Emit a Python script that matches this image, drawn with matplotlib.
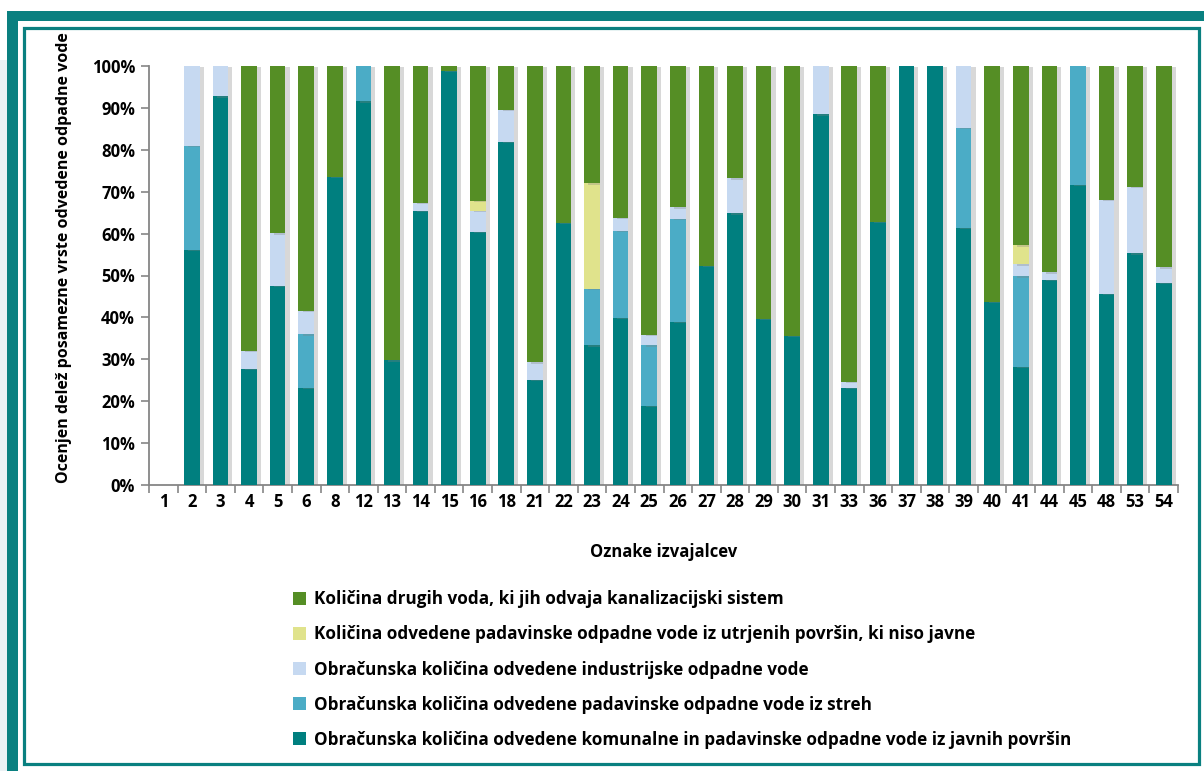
import matplotlib
matplotlib.use('Agg')
import matplotlib.pyplot as plt
import matplotlib.patheffects as pe
from matplotlib.patches import Rectangle
from matplotlib.ticker import FixedLocator, PercentFormatter
import numpy as np

plt.rcParams['font.family'] = ['Open Sans', 'DejaVu Sans']
plt.rcParams['font.weight'] = 'bold'

categories = ['1', '2', '3', '4', '5', '6', '8', '12', '13', '14', '15', '16', '18', '21', '22', '23', '24', '25',
              '26', '27', '28', '29', '30', '31', '33', '36', '37', '38', '39', '40', '41', '44', '45', '48', '53', '54']

komunalne = [0, 56.2, 92.8, 27.7, 47.6, 23.2, 73.5, 91.6, 29.8, 65.5, 98.9, 60.5, 81.9, 25.1, 62.6, 33.3, 39.9, 18.9,
             39.0, 52.3, 64.8, 39.7, 35.6, 88.5, 23.2, 62.8, 100, 100, 61.4, 43.7, 28.2, 48.9, 71.6, 45.7, 55.3, 48.2]
streh = [0, 24.8, 0, 0, 0, 12.8, 0, 8.4, 0, 0, 0, 0, 0, 0, 0, 13.5, 20.8, 14.4,
         24.5, 0, 0, 0, 0, 0, 0, 0, 0, 0, 23.8, 0, 21.6, 0, 28.4, 0, 0, 0]
industrijske = [0, 19.0, 7.2, 4.3, 12.5, 5.6, 0, 0, 0, 1.9, 0, 4.9, 7.6, 4.2, 0, 0, 3.1, 2.6,
                2.8, 0, 8.4, 0, 0, 11.5, 1.5, 0, 0, 0, 14.8, 0, 2.9, 1.9, 0, 22.3, 15.8, 3.8]
utrjene = [0, 0, 0, 0, 0, 0, 0, 0, 0, 0, 0, 2.4, 0, 0, 0, 25.2, 0, 0,
           0, 0, 0, 0, 0, 0, 0, 0, 0, 0, 0, 0, 4.5, 0, 0, 0, 0, 0]
druge = [0, 0, 0, 68.0, 39.9, 58.4, 26.5, 0, 70.2, 32.6, 1.1, 32.2, 10.5, 70.7, 37.4, 28.0, 36.2, 64.1,
         33.7, 47.7, 26.8, 60.3, 64.4, 0, 75.3, 37.2, 0, 0, 0, 56.3, 42.8, 49.2, 0, 32.0, 28.9, 48.0]

series = [
    (komunalne, '#007F7F', 'Obračunska količina odvedene komunalne in padavinske odpadne vode iz javnih površin'),
    (streh, '#4BACC6', 'Obračunska količina odvedene padavinske odpadne vode iz streh'),
    (industrijske, '#C6D9F1', 'Obračunska količina odvedene industrijske odpadne vode'),
    (utrjene, '#E0E38C', 'Količina odvedene padavinske odpadne vode iz utrjenih površin, ki niso javne'),
    (druge, '#558E25', 'Količina drugih voda, ki jih odvaja kanalizacijski sistem'),
]

W, H = 1204, 771
fig = plt.figure(figsize=(W / 100, H / 100), dpi=100)
teal = '#0A8080'


def fx(x):
    return x / W


def fy(y):
    return 1 - y / H


# frame around the chart
fig.patches.append(Rectangle((0, 0), fx(7), fy(60), transform=fig.transFigure,
                             facecolor='#EBF1F4', edgecolor='none', zorder=0))
fig.patches.append(Rectangle((fx(7), fy(21)), 1 - fx(7), fy(11) - fy(21), transform=fig.transFigure,
                             facecolor=teal, edgecolor='none'))
fig.patches.append(Rectangle((fx(7), 0), fx(18) - fx(7), fy(11), transform=fig.transFigure,
                             facecolor=teal, edgecolor='none'))
fig.patches.append(Rectangle((fx(23.5), fy(763.5)), fx(1198.5) - fx(23.5), fy(27.5) - fy(763.5),
                             transform=fig.transFigure, facecolor='none', edgecolor=teal, linewidth=2.3))

ax = fig.add_axes([fx(149), fy(485), fx(1178) - fx(149), fy(66) - fy(485)])
x = np.arange(len(categories))
bottom = np.zeros(len(categories))
shadow = [pe.SimplePatchShadow(offset=(3, -1), shadow_rgbFace='#808080', alpha=0.3), pe.Normal()]
handles = []
for vals, color, label in series:
    vals = np.array(vals)
    bars = ax.bar(x, vals, 0.55, bottom=bottom, color=color, label=label, zorder=3)
    for b in bars:
        b.set_path_effects(shadow)
    handles.append(bars)
    bottom += vals

ax.set_xlim(-0.5, len(categories) - 0.5)
ax.set_ylim(0, 100)
ax.set_yticks(np.arange(0, 101, 10))
ax.yaxis.set_major_formatter(PercentFormatter(decimals=0))
ax.set_xticks(x)
ax.set_xticklabels(categories)
ax.xaxis.set_minor_locator(FixedLocator(np.arange(-0.5, len(categories), 1)))
ax.tick_params(axis='x', which='major', length=0, pad=6, labelsize=12)
ax.tick_params(axis='x', which='minor', length=6, width=1.2, color='#868686', direction='out')
ax.tick_params(axis='y', length=6, width=1.2, color='#868686', labelsize=12, pad=4)
for lab in ax.get_xticklabels() + ax.get_yticklabels():
    lab.set_fontweight('bold')
for s in ['top', 'right']:
    ax.spines[s].set_visible(False)
for s in ['left', 'bottom']:
    ax.spines[s].set_color('#868686')
    ax.spines[s].set_linewidth(1.3)

ax.set_xlabel('Oznake izvajalcev', fontsize=12, fontweight='bold', labelpad=23)
fig.text(fx(64), fy(258), 'Ocenjen delež posamezne vrste odvedene odpadne vode', rotation=90,
         ha='center', va='center', fontsize=11.5, fontweight='bold')

leg = fig.legend(handles[::-1], [s[2] for s in series][::-1], loc='upper left',
                 bbox_to_anchor=(fx(278), fy(575)), frameon=False,
                 prop={'size': 12.3, 'weight': 'bold'},
                 handlelength=0.75, handleheight=0.75, handletextpad=0.45, labelspacing=1.0)
for h in leg.legend_handles:
    h.set_path_effects([])

fig.savefig('out.png', dpi=100)
